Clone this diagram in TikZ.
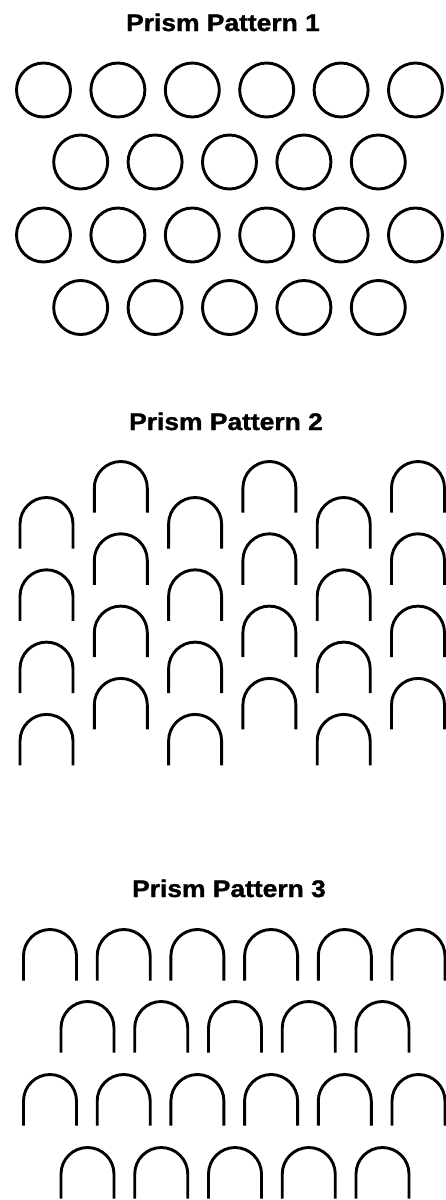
\documentclass[tikz,border=0pt]{standalone}
\usepackage{fontspec}
\setmainfont{Liberation Sans}
\newfontfamily\prismtitlefont{Liberation Sans}[BoldFont={Liberation Sans Bold}, BoldFeatures={FakeBold=1.2}]
\begin{document}
\begin{tikzpicture}[x=1pt,y=1pt,
  prismring/.style={line width=2.9pt},
  prismarch/.style={line width=2.9pt},
  ptitle/.style={font=\prismtitlefont\bfseries\fontsize{24}{28}\selectfont, anchor=base, inner sep=0pt},
  parch/.pic={\draw[prismarch] (-26.5,-51) -- (-26.5,-26.5) arc[start angle=180,end angle=0,radius=26.5] -- (26.5,-51);}]
\useasboundingbox (0,0) rectangle (445,-1200);
% titles
\node[ptitle] (t1) at (223,-31) {\scalebox{1.1}[1]{Prism Pattern 1}};
\node[ptitle] (t2) at (226,-430) {\scalebox{1.1}[1]{Prism Pattern 2}};
\node[ptitle] (t3) at (229,-897) {\scalebox{1.1}[1]{Prism Pattern 3}};
% pattern 1
\foreach \i in {0,...,5} {
  \draw[prismring] ({43.5+74.4*\i},-90) circle[radius=27];
  \draw[prismring] ({43.5+74.4*\i},-235) circle[radius=27];
}
\foreach \i in {0,...,4} {
  \draw[prismring] ({80.7+74.4*\i},-162) circle[radius=27];
  \draw[prismring] ({80.7+74.4*\i},-307.5) circle[radius=27];
}
% pattern 2
\foreach \r in {0,...,3} {
  \foreach \c in {0,2,4} { \pic at ({46.5+74.3*\c},{-(497.5+72.3*\r)}) {parch}; }
  \foreach \c in {1,3,5} { \pic at ({46.5+74.3*\c},{-(461.5+72.3*\r)}) {parch}; }
}
% pattern 3
\foreach \t in {929.5,1074.5} {
  \foreach \i in {0,...,5} { \pic at ({50+73.7*\i},-\t) {parch}; }
}
\foreach \t in {1001.5,1147.5} {
  \foreach \i in {0,...,4} { \pic at ({87.5+73.75*\i},-\t) {parch}; }
}
\end{tikzpicture}
\end{document}
